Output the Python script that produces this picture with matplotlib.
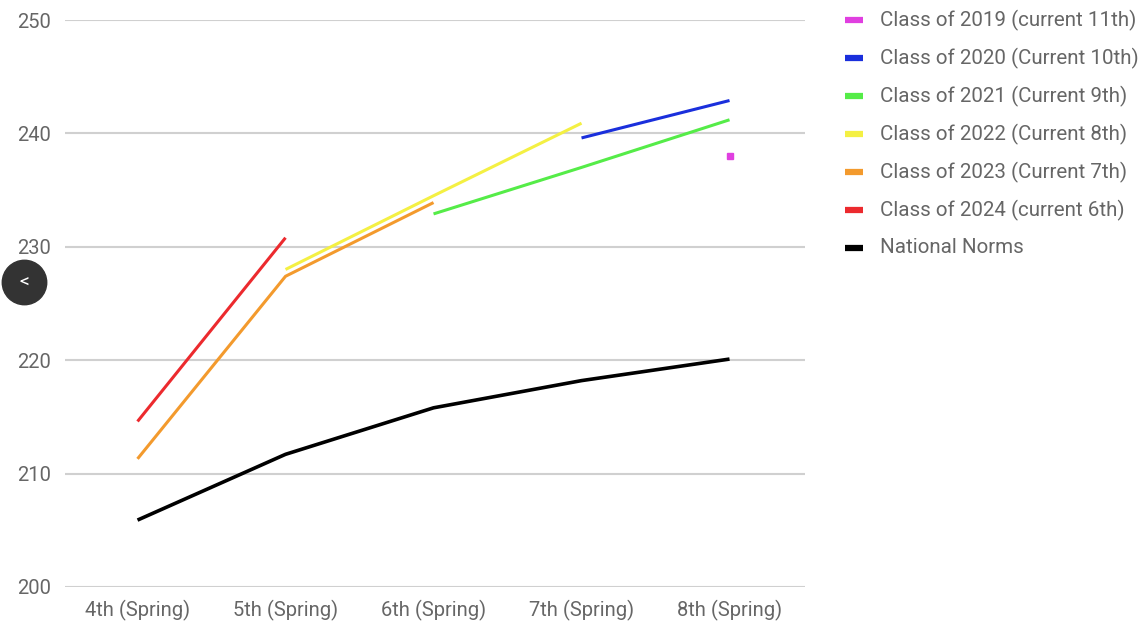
import matplotlib
matplotlib.use("Agg")
import matplotlib.pyplot as plt
from matplotlib.lines import Line2D
import numpy as np

plt.rcParams["font.family"] = ["Roboto", "DejaVu Sans"]

grades = ["4th (Spring)", "5th (Spring)", "6th (Spring)", "7th (Spring)", "8th (Spring)"]

labels = [
    "Class of 2019 (current 11th)",
    "Class of 2020 (Current 10th)",
    "Class of 2021 (Current 9th)",
    "Class of 2022 (Current 8th)",
    "Class of 2023 (Current 7th)",
    "Class of 2024 (current 6th)",
    "National Norms",
]
colors = ["#e03fe0", "#1a2fdc", "#55ec48", "#f4f043", "#f39a2d", "#ec2a2e", "#000000"]

nan = np.nan
class_2019 = [nan, nan, nan, nan, 238.0]
class_2020 = [nan, nan, nan, 239.6, 242.9]
class_2021 = [nan, nan, 232.9, 237.0, 241.2]
class_2022 = [nan, 228.0, 234.5, 240.9, nan]
class_2023 = [211.3, 227.4, 233.9, nan, nan]
class_2024 = [214.6, 230.8, nan, nan, nan]
national = [205.9, 211.7, 215.8, 218.2, 220.1]
series = [class_2019, class_2020, class_2021, class_2022, class_2023, class_2024, national]

W, H = 1148, 624
fig = plt.figure(figsize=(W / 100, H / 100), dpi=100)
ax = fig.add_axes([65 / W, 1 - 587 / H, (805 - 65) / W, (587 - 20) / H])

x = np.arange(len(grades))
for vals, col in zip(series, colors):
    v = np.array(vals)
    if np.sum(~np.isnan(v)) == 1:
        ax.plot(x, v, color=col, marker="s", ms=4, lw=0, zorder=3)
    else:
        ax.plot(x, v, color=col, lw=2.6 if col == "#000000" else 2.2,
                solid_capstyle="butt", zorder=3)

ax.set_xlim(-0.49, 4.51)
ax.set_ylim(200, 250)
ax.set_yticks([200, 210, 220, 230, 240, 250])
ax.set_xticks(x)
ax.set_xticklabels(grades)
ax.tick_params(length=0, labelsize=14.5, labelcolor="#666666")
ax.tick_params(axis="y", pad=10)
ax.tick_params(axis="x", pad=9)
ax.grid(axis="y", color="#d0d0d0", lw=1.5)
ax.set_axisbelow(True)
for s in ax.spines.values():
    s.set_visible(False)

# legend, drawn by hand on the right
for i, (lab, col) in enumerate(zip(labels, colors)):
    ypx = 20 + i * 38
    fig.add_artist(Line2D([845 / W, 863 / W], [1 - ypx / H] * 2, color=col,
                          lw=4.5, solid_capstyle="butt"))
    fig.text(880 / W, 1 - ypx / H, lab, ha="left", va="center",
             fontsize=14.8, color="#666666")

# carousel back button from the screenshot
fig.add_artist(Line2D([24 / W], [1 - 282 / H], marker="o", ms=32,
                      color="#333333", lw=0))
fig.text(24 / W, 1 - 283 / H, "<", ha="center", va="center",
         fontsize=14, color="white")

fig.savefig("out.png", dpi=100, facecolor="white")
